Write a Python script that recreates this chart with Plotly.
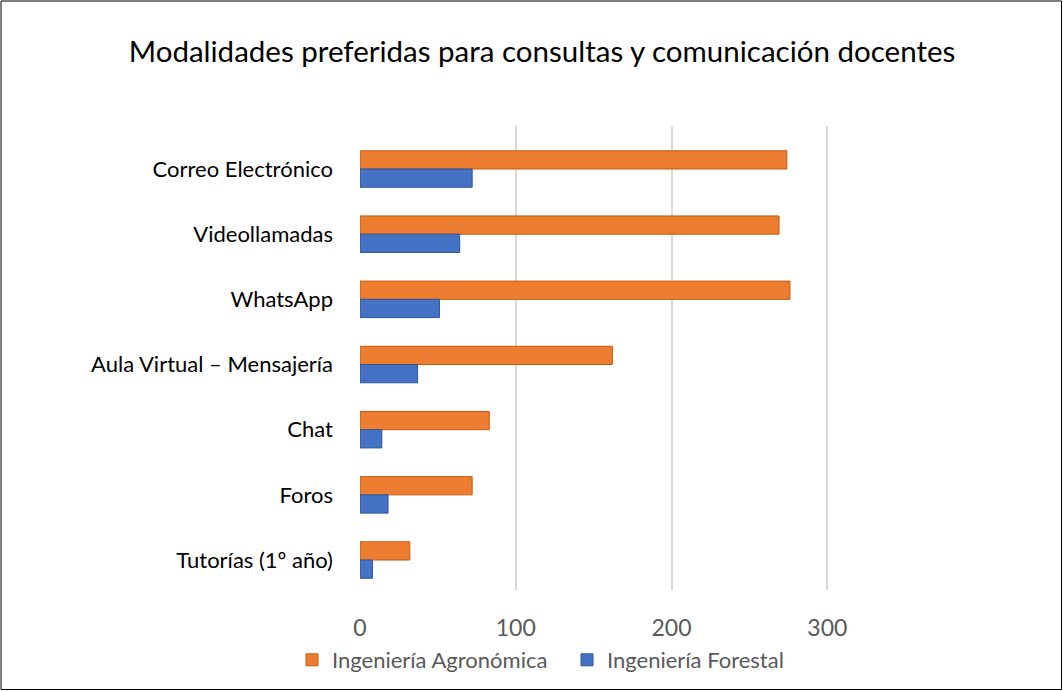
import plotly.graph_objects as go

# preferred channels for student-teacher communication, per degree

categorias = ['Correo Electrónico', 'Videollamadas', 'WhatsApp',
              'Aula Virtual – Mensajería', 'Chat', 'Foros', 'Tutorías (1º año)']
agronomica = [274, 269, 276, 162, 83, 72, 32]
forestal = [72, 64, 51, 37, 14, 18, 8]
ticks_x = [0, 100, 200, 300]

W, H = 1063, 691
L, R, T, B = 360, 231, 126, 101

fig = go.Figure()
fig.add_trace(go.Bar(
    y = categorias,
    x = agronomica,
    orientation = 'h',
    name = 'Ingeniería Agronómica',
    marker = dict(color = '#ED7D31', line = dict(color = '#C55A11', width = 1))
))
fig.add_trace(go.Bar(
    y = categorias,
    x = forestal,
    orientation = 'h',
    name = 'Ingeniería Forestal',
    marker = dict(color = '#4472C4', line = dict(color = '#2F5597', width = 1))
))

pw = W - L - R
ph = H - T - B
# thin frame round the whole chart
fig.add_shape(type='rect', xref='paper', yref='paper',
              x0=-(L - 1) / pw, x1=1 + (R - 1.5) / pw,
              y0=-(B - 1.5) / ph, y1=1 + (T - 1) / ph,
              line=dict(color='#000000', width=1), layer='below')

fig.update_layout(
    width = W,
    height = H,
    margin = dict(l=L, r=R, t=T, b=B, autoexpand=False),
    paper_bgcolor = 'white',
    plot_bgcolor = 'white',
    font = dict(family='Lato, Calibri, sans-serif', color='#000000'),
    title = dict(
        text = 'Modalidades preferidas para consultas y comunicación docentes',
        x = 542 / W, xref = 'container', xanchor = 'center',
        y = 1 - 52 / H, yanchor = 'middle',
        font = dict(size=29.5, color='#000000')
    ),
    barmode = 'group',
    bargap = 0.44,
    bargroupgap = 0,
    showlegend = True,
    legend = dict(
        orientation = 'h',
        x = (292 - L) / pw, xanchor = 'left', xref = 'paper',
        y = -(660 - (H - B)) / ph, yanchor = 'middle',
        font = dict(size=22, color='#595959'),
        itemwidth = 30,
        entrywidth = 230,
        traceorder = 'normal'
    ),
    xaxis = dict(
        range = [0, 303],
        tickvals = ticks_x,
        showgrid = True,
        gridcolor = '#D9D9D9',
        gridwidth = 2,
        zeroline = False,
        showline = False,
        tickfont = dict(size=23, color='#595959'),
        ticklabelstandoff = 22,
        automargin = False,
        fixedrange = True
    ),
    yaxis = dict(
        type = 'category',
        range = [6.46, -0.66],
        showgrid = False,
        zeroline = False,
        showline = False,
        tickfont = dict(size=22, color='#000000'),
        ticklabelstandoff = 26,
        automargin = False,
        fixedrange = True
    )
)

fig.write_html("out.html", config={'displayModeBar': False},
               post_script="document.body.style.margin='0';")
